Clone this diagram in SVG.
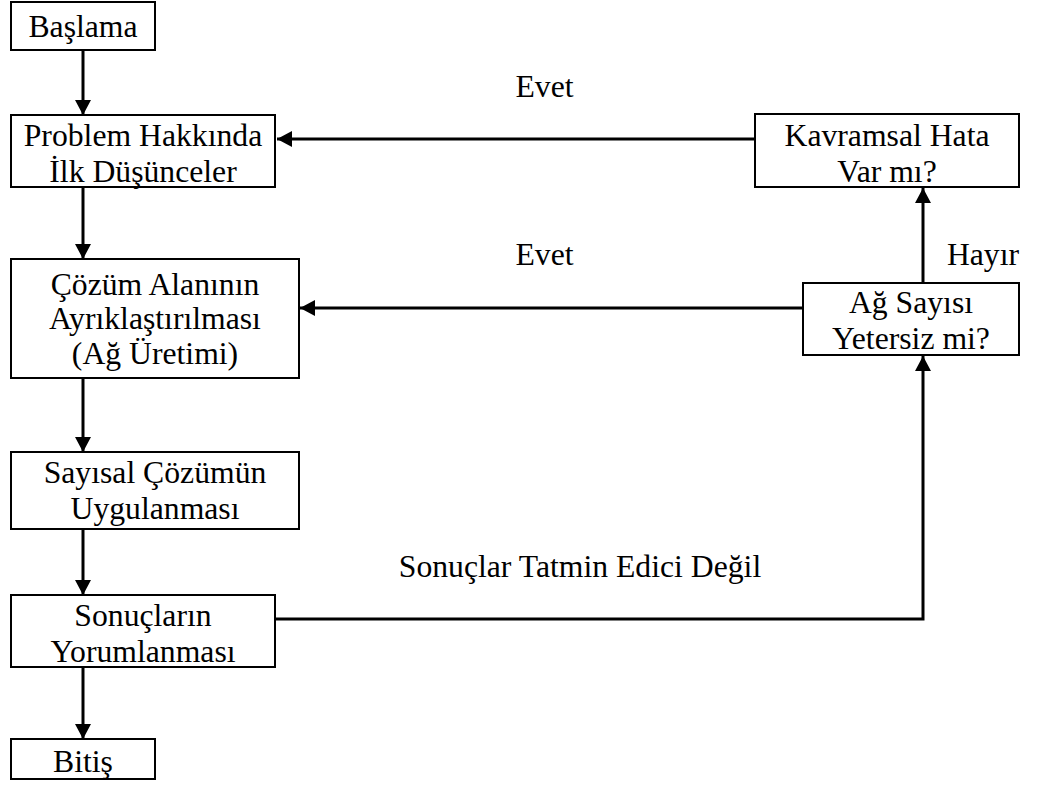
<svg xmlns="http://www.w3.org/2000/svg" width="1039" height="793" viewBox="0 0 1039 793">
<style>
.box{fill:#fff;stroke:#000;stroke-width:2}
.t{font-family:'Liberation Serif',Tinos,'Times New Roman',Times,'DejaVu Serif',serif;font-size:31.7px;fill:#000;text-anchor:middle}
.c{fill:none;stroke:#000;stroke-width:3}
</style>
<defs>
<marker id="ah" markerUnits="userSpaceOnUse" markerWidth="16" markerHeight="16" refX="15" refY="8" orient="auto">
<path d="M0,0 L15,8 L0,16 z" fill="#000"/>
</marker>
</defs>
<rect width="1039" height="793" fill="#fff"/>
<g id="connectors">
<line class="c" x1="83" y1="50" x2="83" y2="115" marker-end="url(#ah)"/>
<line class="c" x1="83" y1="187" x2="83" y2="259" marker-end="url(#ah)"/>
<line class="c" x1="83" y1="378" x2="83" y2="452" marker-end="url(#ah)"/>
<line class="c" x1="83" y1="529" x2="83" y2="595" marker-end="url(#ah)"/>
<line class="c" x1="83" y1="667" x2="83" y2="739" marker-end="url(#ah)"/>
<line class="c" x1="755" y1="139" x2="277" y2="139" marker-end="url(#ah)"/>
<line class="c" x1="803" y1="308" x2="300" y2="308" marker-end="url(#ah)"/>
<line class="c" x1="923" y1="283" x2="923" y2="188" marker-end="url(#ah)"/>
<polyline class="c" points="275,619 923,619 923,356" marker-end="url(#ah)"/>
<text class="t" x="544.5" y="97">Evet</text>
<text class="t" x="544.5" y="265">Evet</text>
<text class="t" x="983" y="265">Hayır</text>
<text class="t" x="580" y="577">Sonuçlar Tatmin Edici Değil</text>
</g>
<g id="baslama">
<rect class="box" x="11" y="2" width="144" height="48"/>
<text class="t" x="83" y="37">Başlama</text>
</g>
<g id="problem">
<rect class="box" x="11" y="115" width="264" height="72"/>
<text class="t" x="143" y="146">Problem Hakkında</text>
<text class="t" x="143" y="182">İlk Düşünceler</text>
</g>
<g id="cozum">
<rect class="box" x="11" y="259" width="288" height="119"/>
<text class="t" x="155" y="295">Çözüm Alanının</text>
<text class="t" x="155" y="329">Ayrıklaştırılması</text>
<text class="t" x="155" y="364">(Ağ Üretimi)</text>
</g>
<g id="sayisal">
<rect class="box" x="11" y="452" width="288" height="77"/>
<text class="t" x="155" y="483">Sayısal Çözümün</text>
<text class="t" x="155" y="519">Uygulanması</text>
</g>
<g id="sonuclar">
<rect class="box" x="11" y="595" width="264" height="72"/>
<text class="t" x="143" y="626">Sonuçların</text>
<text class="t" x="143" y="662">Yorumlanması</text>
</g>
<g id="bitis">
<rect class="box" x="11" y="739" width="144" height="40"/>
<text class="t" x="83" y="772">Bitiş</text>
</g>
<g id="kavramsal">
<rect class="box" x="755" y="114" width="264" height="73"/>
<text class="t" x="887" y="146">Kavramsal Hata</text>
<text class="t" x="887" y="182">Var mı?</text>
</g>
<g id="agsayisi">
<rect class="box" x="803" y="283" width="216" height="72"/>
<text class="t" x="911" y="313">Ağ Sayısı</text>
<text class="t" x="911" y="349">Yetersiz mi?</text>
</g>
</svg>
